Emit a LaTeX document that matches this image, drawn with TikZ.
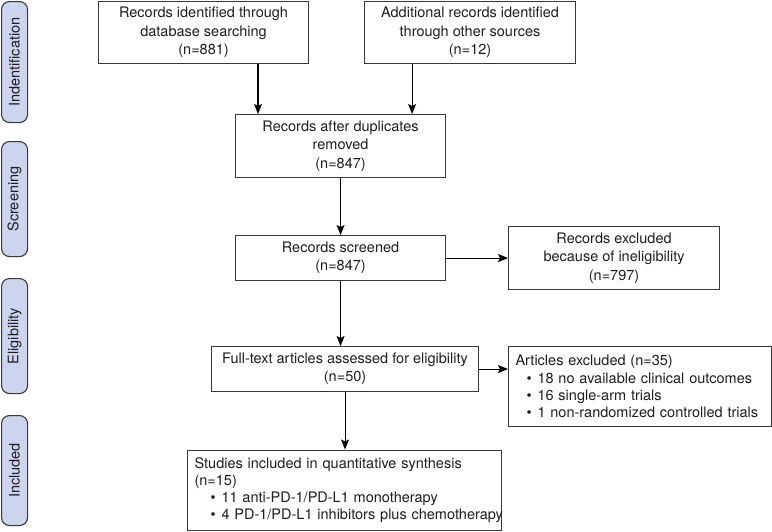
\documentclass[tikz,border=0pt]{standalone}
\usepackage{fontspec}
\setmainfont{TeX Gyre Heros}
\usetikzlibrary{arrows.meta,calc}
\definecolor{tabfill}{RGB}{205,213,238}
\definecolor{linegray}{RGB}{55,55,60}
\definecolor{txtgray}{RGB}{30,30,30}
\newcommand{\bul}[2]{\mbox{\hspace*{#1}\makebox[11pt][l]{\textbullet}#2}}
\begin{document}
\begin{tikzpicture}[x=1pt,y=-1pt,
    box/.style={draw=linegray,line width=1.1pt,fill=white,anchor=north west,inner sep=0pt,
      align=center,text=txtgray,font=\fontsize{14.5}{18.3}\selectfont},
    listbox/.style={box,align=left,inner xsep=7pt,font=\fontsize{14.5}{17.2}\selectfont},
    phase/.style={draw=linegray,line width=1.1pt,fill=tabfill,rounded corners=8pt,anchor=north west,
      minimum width=26pt,inner sep=0pt,text=txtgray,font=\fontsize{14.5}{17.6}\selectfont},
    arr/.style={draw=black,line width=1.1pt,-{Stealth[length=10pt,width=8pt,inset=2pt]}}]
    \useasboundingbox (0,0) rectangle (772,531);
    %% Phases
    \node[phase,minimum height=121pt] (tabid) at (1,1) {};
    \node[rotate=90,text=txtgray,font=\fontsize{14.5}{17.6}\selectfont] at (tabid.center) {Indentification};
    \node[phase,minimum height=115pt] (tabsc) at (1,141) {};
    \node[rotate=90,text=txtgray,font=\fontsize{14.5}{17.6}\selectfont] at (tabsc.center) {Screening};
    \node[phase,minimum height=115pt] (tabel) at (1,278) {};
    \node[rotate=90,text=txtgray,font=\fontsize{14.5}{17.6}\selectfont] at (tabel.center) {Eligibility};
    \node[phase,minimum height=110pt] (tabin) at (1,415) {};
    \node[rotate=90,text=txtgray,font=\fontsize{14.5}{17.6}\selectfont] at (tabin.center) {Included};
    %% Boxes
    \node[box,minimum width=210pt,minimum height=62pt] (db) at (98,0.7) {Records identified through\\database searching\\(n=881)};
    \node[box,minimum width=211pt,minimum height=62pt] (other) at (364,0.7) {Additional records identified\\through other sources\\(n=12)};
    \node[box,minimum width=210pt,minimum height=63pt] (dup) at (235,114) {Records after duplicates\\removed\\(n=847)};
    \node[box,minimum width=210pt,minimum height=45pt] (scr) at (235,235) {Records screened\\(n=847)};
    \node[box,minimum width=211pt,minimum height=63pt] (excl) at (508,226) {Records excluded\\because of ineligibility\\(n=797)};
    \node[box,minimum width=267pt,minimum height=45pt] (full) at (211,346) {Full-text articles assessed for eligibility\\(n=50)};
    \node[listbox,text width=249pt,minimum height=80pt] (artex) at (508,346) {Articles excluded (n=35)\\
      \bul{11pt}{18 no available clinical outcomes}\\
      \bul{11pt}{16 single-arm trials}\\
      \bul{11pt}{1 non-randomized controlled trials}};
    \node[listbox,text width=300pt,minimum height=80pt] (incl) at (187,449.5) {Studies included in quantitative synthesis\\(n=15)\\
      \bul{16pt}{11 anti-PD-1/PD-L1 monotherapy}\\
      \bul{16pt}{4 PD-1/PD-L1 inhibitors plus chemotherapy}};
    %% Arrows
    \coordinate (in1) at ($(dup.north west)+(23pt,0)$);
    \coordinate (in2) at ($(dup.north east)+(-34pt,0)$);
    \draw[arr] (db.south -| in1) -- (in1);
    \draw[arr] (other.south -| in2) -- (in2);
    \draw[arr] (dup.south) -- (dup.south |- scr.north);
    \draw[arr] (scr.east) -- (scr.east -| excl.west);
    \draw[arr] (scr.south) -- (scr.south |- full.north);
    \draw[arr] (full.east) -- (full.east -| artex.west);
    \draw[arr] (full.south) -- (full.south |- incl.north);
\end{tikzpicture}
\end{document}
